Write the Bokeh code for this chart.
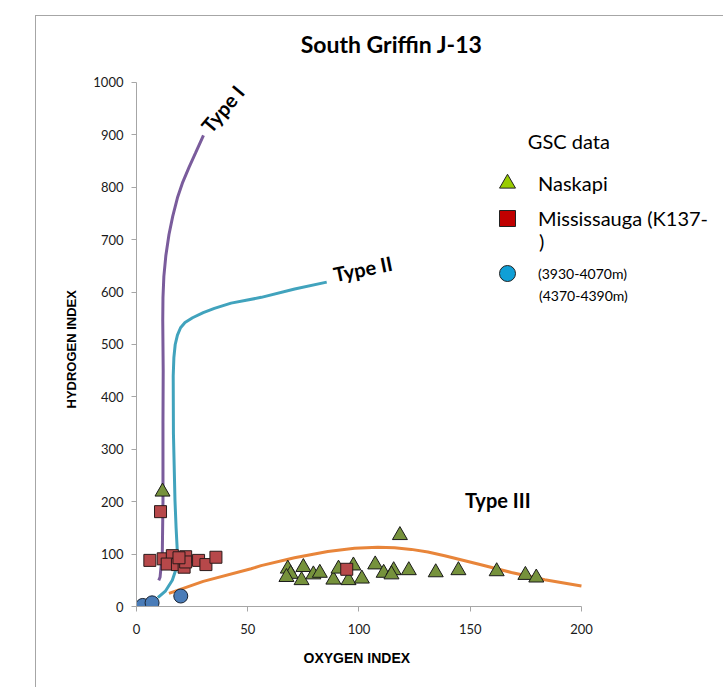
from bokeh.plotting import figure
from bokeh.models import Range1d, Label, Legend, LegendItem, FixedTicker, Title
from bokeh.embed import file_html
from bokeh.resources import INLINE

# ---- data ----
type1_x = [10.0, 10.6, 11.6, 11.9, 11.9, 12.0, 11.8, 11.9, 12.3, 13.2, 14.6, 16.3, 18.4, 20.8, 23.6, 26.6, 30.1]
type1_y = [50, 56, 101, 200, 350, 450, 546, 590, 630, 670, 710, 745, 780, 810, 838, 866, 899]

type2_x = [9.6, 13.1, 16.1, 17.6, 18.4, 17.8, 17.3, 16.6, 16.5, 16.8, 17.4, 18.4, 19.8, 21.8, 25.2, 30.0, 35.0, 42.5, 56.1, 71.1, 85.5]
type2_y = [17, 30, 50, 69, 101, 150, 202, 330, 440, 475, 500, 518, 532, 542, 551, 561, 569, 579, 590, 606, 619]

type3_x = [14.6, 30, 51.5, 56, 71, 86, 98, 108.5, 116, 123.5, 131, 138.5, 153.5, 168.5, 183.5, 200]
type3_y = [25, 48, 72, 78, 93, 105, 111, 113, 112, 109, 104, 97, 81, 65, 51, 39]

naskapi_x = [11.7, 118.4, 68, 69.3, 67.4, 75, 74.2, 79.5, 82.4, 88.5, 90.8, 95.3, 97.5, 101.3,
             107.3, 111.1, 115.6, 114.6, 122.4, 134.5, 144.7, 161.9, 174.8, 179.7]
naskapi_y = [219, 136, 72, 62, 56, 75, 50, 61, 64, 51, 72, 50, 78, 53,
             80, 64, 69, 61, 69, 65, 69, 67, 60, 55]

miss_x = [10.8, 6.0, 12.0, 16.1, 13.8, 18.4, 21.4, 22.1, 22.1, 19.1, 27.9, 31.2, 35.7, 94.5]
miss_y = [181, 88, 91, 97, 81, 80, 75, 95, 85, 93, 88, 80, 94, 71]

deep_x = [2.8, 7.0, 19.9]
deep_y = [2, 7, 20]

x_ticks = [0, 50, 100, 150, 200]
y_ticks = [0, 100, 200, 300, 400, 500, 600, 700, 800, 900, 1000]

chart_title = "South Griffin J-13"
legend_title = "GSC data"
legend_labels = ["Naskapi", "Mississauga (K137-", "(3930-4070m)"]
legend_extra = [")", "(4370-4390m)"]

# ---- figure ----
# the frame extends above and to the right of the 0-200 / 0-1000 axes so that the
# title and the key can sit inside it; the axes themselves are bounded.
p = figure(width=688, height=672, output_backend="svg", toolbar_location=None,
           x_range=Range1d(0, 264.3), y_range=Range1d(0, 1125.95),
           min_border_left=100, min_border_right=0, min_border_top=0, min_border_bottom=82)
p.margin = (15, 0, 0, 35)
p.styles = {"border-left": "1px solid #a6a6a6", "border-top": "1px solid #a6a6a6"}
p.outline_line_color = None
p.grid.visible = False
p.background_fill_color = "white"
p.border_fill_color = "white"

for ax in (p.xaxis[0], p.yaxis[0]):
    ax.axis_line_color = "#a6a6a6"
    ax.major_tick_line_color = "#a6a6a6"
    ax.minor_tick_line_color = None
    ax.major_tick_in = 0
    ax.major_tick_out = 5
    ax.major_label_text_font = "Lato"
    ax.major_label_text_font_size = "13px"
    ax.major_label_text_color = "#1a1a1a"

p.xaxis.ticker = FixedTicker(ticks=x_ticks)
p.yaxis.ticker = FixedTicker(ticks=y_ticks)
p.xaxis.bounds = (0, 200)
p.yaxis.bounds = (0, 1000)
p.xaxis.major_label_standoff = 12
p.yaxis.major_label_standoff = 8

# axis titles placed against the bounded axes
p.add_layout(Title(text="OXYGEN INDEX", align="left", offset=167, standoff=22,
                   text_font="Liberation Sans", text_font_style="bold",
                   text_font_size="14px", text_color="#000000"), "below")
p.add_layout(Title(text="HYDROGEN INDEX", align="left", offset=198, standoff=24,
                   text_font="Liberation Sans", text_font_style="bold",
                   text_font_size="13px", text_color="#000000"), "left")

# chart title
p.add_layout(Label(x=73.8, y=1074.4, text=chart_title, text_align="left",
                   text_baseline="middle", text_font="Lato", text_font_style="bold",
                   text_font_size="23px", text_color="#000000"))

# ---- curves ----
p.line(type1_x, type1_y, line_color="#7a5c9c", line_width=3)
p.line(type2_x, type2_y, line_color="#41a3bd", line_width=3)
p.line(type3_x, type3_y, line_color="#e8853a", line_width=3)

# ---- data points ----
p.scatter(naskapi_x, naskapi_y, marker="triangle", size=15, fill_color="#76923c",
          line_color="#1a1a1a", line_width=1)
p.scatter(miss_x, miss_y, marker="square", size=12, fill_color="#b7484a",
          line_color="#2a1a1a", line_width=1)
p.scatter(deep_x, deep_y, marker="circle", size=14, fill_color="#4a7cb8",
          line_color="#1a2433", line_width=1)

# ---- type labels ----
def tlabel(x, y, txt, angle=0.0):
    p.add_layout(Label(x=x, y=y, text=txt, angle=angle, text_align="center",
                       text_baseline="middle", text_font="Lato", text_font_style="bold",
                       text_font_size="20px", text_color="#000000"))

tlabel(38.6, 950, "Type I", 0.87)
tlabel(101.7, 645, "Type II", 0.2)
tlabel(162.4, 204, "Type III")

# ---- legend (separate drawn key, brighter colours than the plotted points) ----
nan = float("nan")
r_n = p.scatter([nan], [nan], marker="triangle", size=16, fill_color="#99cc00", line_color="#222222")
r_m = p.scatter([nan], [nan], marker="square", size=16, fill_color="#c00000", line_color="#222222")
r_c = p.scatter([nan], [nan], marker="circle", size=16, fill_color="#109fd6", line_color="#222222")

def add_leg(label, rend, ypos, fsize):
    leg = Legend(items=[LegendItem(label=label, renderers=[rend])],
                 location=(351, ypos), label_text_font="Lato", label_text_font_size=fsize,
                 label_text_color="#000000", label_standoff=11, glyph_width=40,
                 glyph_height=40, label_height=20, spacing=0, padding=0, margin=0,
                 border_line_color=None, background_fill_alpha=0)
    p.add_layout(leg)

add_leg(legend_labels[0], r_n, 403, "20px")
add_leg(legend_labels[1], r_m, 368, "20px")
add_leg(legend_labels[2], r_c, 313, "14px")

def llabel(x, y, txt, size):
    p.add_layout(Label(x=x, y=y, text=txt, text_align="left", text_baseline="middle",
                       text_font="Lato", text_font_size=size, text_color="#000000"))

llabel(175.9, 889, legend_title, "20px")
llabel(180.9, 698, legend_extra[0], "20px")
llabel(180.9, 594, legend_extra[1], "14px")

open("out.html", "w").write(file_html(p, INLINE))
